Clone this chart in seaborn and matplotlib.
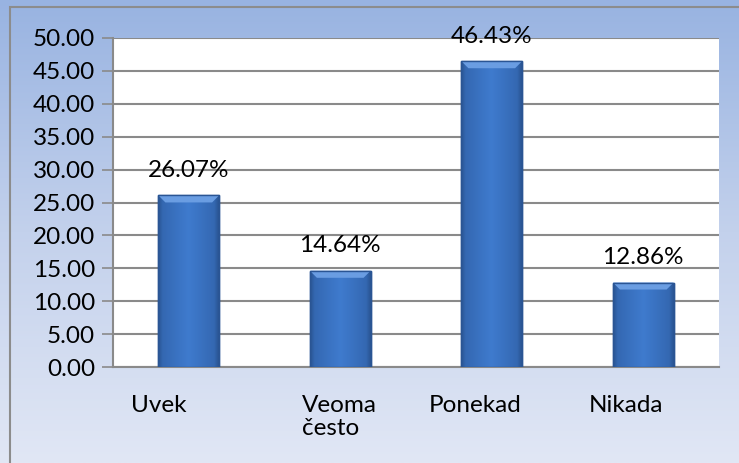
import numpy as np
import pandas as pd
import matplotlib
matplotlib.use("Agg")
import matplotlib.pyplot as plt
import matplotlib.transforms as mtransforms
from matplotlib.colors import LinearSegmentedColormap
from matplotlib.patches import Rectangle, Polygon
import seaborn as sns

categories = ["Uvek", "Veoma\nčesto", "Ponekad", "Nikada"]
values = [26.07, 14.64, 46.43, 12.86]
value_labels = ["26.07%", "14.64%", "46.43%", "12.86%"]
y_ticks = [0, 5, 10, 15, 20, 25, 30, 35, 40, 45, 50]

df = pd.DataFrame({"category": categories, "value": values})

sns.set_theme(style="white")
plt.rcParams["font.family"] = ["Lato", "DejaVu Sans"]
FS = 17.5

fig = plt.figure(figsize=(7.39, 4.63), dpi=100)

# gradient background of the chart area
bg = fig.add_axes([0, 0, 1, 1], zorder=-10)
bg_cmap = LinearSegmentedColormap.from_list("bg", ["#98B3E1", "#C3D1EC", "#E1E7F5"])
bg.imshow(np.linspace(0, 1, 256).reshape(-1, 1), aspect="auto", cmap=bg_cmap,
          extent=[0, 1, 0, 1], origin="upper")
bg.set_axis_off()
fig.patches.append(Rectangle((10 / 739, -0.1), 1.2, 1 - 7 / 463 + 0.1,
                             transform=fig.transFigure, fill=False,
                             edgecolor="#8C8C8C", linewidth=1.5, zorder=5))

ax = fig.add_axes([113 / 739, (463 - 367.3) / 463, 606 / 739, 329.6 / 463])
ax.set_facecolor("white")

sns.barplot(data=df, x="category", y="value", color="#3C76C8", width=0.40,
            edgecolor="#2A5594", linewidth=1.0, saturation=1, ax=ax, zorder=3)

# shaded bevel look on each bar
bar_cmap = LinearSegmentedColormap.from_list(
    "bar", [(0, "#2A5594"), (0.07, "#3468B2"), (0.5, "#3F7BCE"),
            (0.93, "#3468B2"), (1, "#2A5594")])
px_x = 0.40 / 61     # data units per pixel, x
px_y = 50 / 329.6    # data units per pixel, y
for p in ax.patches:
    x0, y0 = p.get_x(), p.get_y()
    w, h = p.get_width(), p.get_height()
    im = ax.imshow(np.linspace(0, 1, 64).reshape(1, -1), aspect="auto", cmap=bar_cmap,
                   extent=[x0, x0 + w, y0, y0 + h], zorder=4)
    im.set_clip_path(p)
    top = y0 + h
    bevel = 7
    ax.add_patch(Polygon([(x0, top), (x0 + w, top),
                          (x0 + w - bevel * px_x, top - bevel * px_y),
                          (x0 + bevel * px_x, top - bevel * px_y)],
                         closed=True, facecolor="#6A9DE2", edgecolor="none", zorder=5))
    ax.add_patch(Rectangle((x0, y0), w, h, fill=False, edgecolor="#2A5594",
                           linewidth=1.0, zorder=6))

for i, (v, lab) in enumerate(zip(values, value_labels)):
    ax.annotate(lab, (i, v), xytext=(0, 18), textcoords="offset points",
                ha="center", va="center", fontsize=FS, color="black", zorder=7)

ax.set_xlim(-0.5, len(categories) - 0.5)
ax.set_ylim(0, 50)
ax.set_yticks(y_ticks)
ax.set_yticklabels([f"{t:.2f}" for t in y_ticks], fontsize=FS, color="black")
ax.yaxis.grid(True, color="#8A8A8A", linewidth=1.5, zorder=0)
ax.set_axisbelow(True)

ax.set_xticks(range(len(categories)))
ax.set_xticklabels(categories, fontsize=FS, va="top", linespacing=1.1, color="black")
ax.set_xticks(np.arange(-0.5, len(categories), 1), minor=True)
ax.tick_params(axis="x", which="major", length=0, pad=20)
ax.tick_params(axis="x", which="minor", length=7, width=1.2, color="#8A8A8A", direction="out")
ax.tick_params(axis="y", length=8, width=1.2, color="#8A8A8A", direction="out", pad=5, left=True)

# Excel placed the category labels slightly left of the bar centres
shifts = [-30, 0, -17, -17]
for lbl, dx in zip(ax.get_xticklabels(), shifts):
    lbl.set_transform(lbl.get_transform() + mtransforms.ScaledTranslation(dx / 100, 0, fig.dpi_scale_trans))
    if "\n" in lbl.get_text():
        lbl.set_ha("left")
        lbl.set_transform(lbl.get_transform() + mtransforms.ScaledTranslation(-38 / 100, 0, fig.dpi_scale_trans))

ax.set_xlabel("")
ax.set_ylabel("")
for side in ["top", "right"]:
    ax.spines[side].set_visible(False)
for side in ["left", "bottom"]:
    ax.spines[side].set_color("#8A8A8A")
    ax.spines[side].set_linewidth(1.5)

fig.savefig("out.png", dpi=100)
